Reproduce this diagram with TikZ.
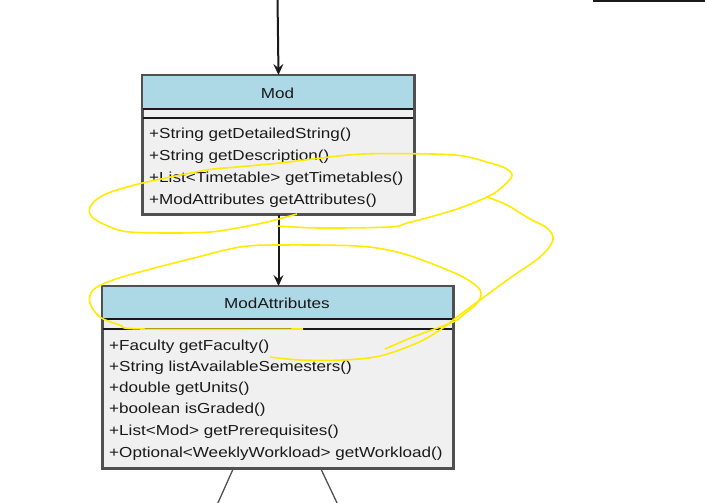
\documentclass[tikz,border=0pt]{standalone}
\usepackage{fontspec}
\setmainfont{Liberation Sans}[FakeStretch=1.18]
\usetikzlibrary{arrows.meta,calc}
\definecolor{headblue}{HTML}{ADD8E6}
\definecolor{bodygray}{HTML}{F0F0F0}
\definecolor{edgegray}{HTML}{505050}
\definecolor{inkdark}{HTML}{1A1A1A}
\definecolor{annot}{RGB}{255,235,0}
\tikzset{
  umlbox/.style={draw=edgegray, line width=2pt, fill=bodygray, rectangle, inner sep=0pt, anchor=north west},
  headfill/.style={fill=headblue},
  sepline/.style={draw=inkdark, line width=1.6pt},
  title/.style={inner sep=0pt, text=inkdark, font=\fontsize{14.5}{17}\selectfont},
  member/.style={inner sep=0pt, anchor=west, text=inkdark, font=\fontsize{14.5}{17}\selectfont},
  conn/.style={draw=inkdark, line width=2pt, -{Stealth[length=11pt,width=10pt,inset=4pt]}},
  leg/.style={draw=edgegray, line width=1.3pt},
  annotline/.style={draw=annot, line width=1.6pt}
}
\begin{document}
\begin{tikzpicture}[x=1pt,y=-1pt]
\useasboundingbox (0,0) rectangle (705,503);
\clip (0,0) rectangle (705,503);
% partial box at top right
\node[umlbox, draw=inkdark, minimum width=140pt, minimum height=30pt, anchor=south west] (other) at (593,2.5) {};
% Mod class
\node[umlbox, minimum width=271pt, minimum height=138pt] (mod) at (142,75) {};
\fill[headfill] (142,75) rectangle (413,109);
\draw[sepline] (142,109) -- (413,109);
\draw[sepline] (142,118) -- (413,118);
\draw[draw=edgegray, line width=2pt] (mod.north west) rectangle (mod.south east);
\node[title] (modtitle) at (277.5,93) {Mod};
\node[member] (m1) at (149,135) {+String getDetailedString()};
\node[member] (m2) at (149,157) {+String getDescription()};
\node[member] (m3) at (149,179) {+List<Timetable> getTimetables()};
\node[member] (m4) at (149,201) {+ModAttributes getAttributes()};
% ModAttributes class
\node[umlbox, minimum width=350pt, minimum height=181pt] (attr) at (102,286) {};
\fill[headfill] (102,286) rectangle (452,319);
\draw[sepline] (102,319) -- (452,319);
\draw[sepline] (102,329) -- (452,329);
\draw[draw=edgegray, line width=2pt] (attr.north west) rectangle (attr.south east);
\node[title] (attrtitle) at (277,303) {ModAttributes};
\node[member] (a1) at (109,347) {+Faculty getFaculty()};
\node[member] (a2) at (109,368) {+String listAvailableSemesters()};
\node[member] (a3) at (109,389) {+double getUnits()};
\node[member] (a4) at (109,410) {+boolean isGraded()};
\node[member] (a5) at (109,432) {+List<Mod> getPrerequisites()};
\node[member] (a6) at (109,454) {+Optional<WeeklyWorkload> getWorkload()};
% connectors
\coordinate (topend) at (277.5,-2);
\draw[conn] (topend) -- (mod.north);
\draw[conn] (mod.south) -- (mod.south |- attr.north);
\coordinate (l1s) at (234,467);
\coordinate (l1e) at (217,505);
\coordinate (l2s) at (320,467);
\coordinate (l2e) at (338,505);
\draw[leg] (l1s) -- (l1e);
\draw[leg] (l2s) -- (l2e);
% yellow hand-drawn annotations
\draw[annotline] plot[smooth, tension=0.55] coordinates {
 (297,214) (267,222) (237,228) (210,232) (173,233) (130,232) (110,227) (92,217)
 (90,207) (100,197) (117,190) (147,182) (207,170) (237,167) (280,163) (313,159)
 (363,154) (433,154) (463,156) (487,162) (505,168) (512,176) (500,189) (487,197)
 (460,208) (430,217) (407,223) (390,227) (320,228) (277,226)};
\draw[annotline] plot[smooth, tension=0.55] coordinates {
 (487,197) (507,205) (530,219) (547,228) (553,240) (540,257) (510,278) (480,300)
 (457,317) (440,330) (417,343) (380,356) (343,360) (300,360) (270,357)};
\draw[annotline] plot[smooth, tension=0.55] coordinates {
 (303,329) (142,329) (120,325) (100,317) (90,303) (93,290) (113,280) (147,270)
 (190,259) (240,247) (280,245) (357,246) (397,252) (430,263) (463,277) (480,290)
 (478,302) (463,315) (453,322) (413,337) (385,349)};
\end{tikzpicture}
\end{document}
